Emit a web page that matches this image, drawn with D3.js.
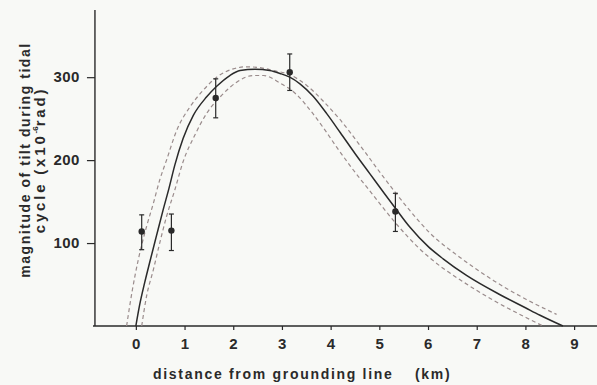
<!DOCTYPE html>
<html><head><meta charset="utf-8">
<script src="https://cdn.jsdelivr.net/npm/d3@7"></script>
<style>
html,body{margin:0;padding:0;background:#f8f9f6;}
svg{display:block;}
text{font-family:"Liberation Sans",Arial,sans-serif;font-weight:bold;fill:#2a2a2a;}
</style></head><body>
<svg id="c" width="597" height="385"></svg>
<script>
// ---- data ----
const xTicks = [0,1,2,3,4,5,6,7,8,9];
const yTicks = [100,200,300];
const obsX   = [0.12, 0.73, 1.64, 3.16, 5.33];
const obsY   = [114, 115, 275, 306, 138];
const obsLo  = [92, 91, 251, 284, 114];
const obsHi  = [134, 135, 298, 328, 160];
const fitX   = [0.0,0.08,0.18,0.29,0.42,0.56,0.68,0.80,0.97,1.18,1.45,1.66,1.93,2.14,2.45,2.75,2.96,3.16,3.37,3.64,3.92,4.20,4.50,4.80,5.10,5.33,5.63,6.00,6.31,6.79,7.47,8.00,8.30,8.77];
const fitY   = [0,26,52,78,108,140,166,194,226,254,276,289,302,308,309.5,308,304.5,300,292,277,256,233,208,184,160,142,119,96,81,61,38,22,13,0];
const upX    = [-0.19,-0.07,0.05,0.22,0.36,0.49,0.63,0.84,1.11,1.38,1.66,2.0,2.27,2.6,2.82,3.16,3.51,3.85,4.19,4.6,5.08,5.56,6.04,6.65,7.34,8.02,8.64];
const upY    = [0,44,80,120,148,176,200,236,264,284,300,310,312.5,311,308,303,290,271,249,218,180,144,112,83,55,32,14];
const loX    = [0.12,0.22,0.36,0.49,0.63,0.80,0.97,1.21,1.45,1.76,2.07,2.41,2.62,2.96,3.30,3.57,3.85,4.12,4.39,4.87,5.35,5.83,6.30,6.65,7.34,8.02,8.36];
const loY    = [0,36,68,100,132,164,198,230,256,278,294,302,302,293,279,261,239,216,194,158,123,93,70,56,31,10,0];

const svg = d3.select("#c");
const x = d3.scaleLinear().domain([-0.88, 9.47]).range([93, 597]);
const y = d3.scaleLinear().domain([0, 381]).range([326, 10]);
const ink = "#2a2a2a";

// axes
const xAxis = svg.append("g").attr("transform","translate(0,"+y(0)+")")
  .call(d3.axisBottom(x).tickValues(xTicks).tickSize(4).tickPadding(8).tickFormat(d3.format("d")));
const yAxis = svg.append("g").attr("transform","translate("+x(-0.84)+",0)")
  .call(d3.axisLeft(y).tickValues(yTicks).tickSize(8).tickPadding(7).tickFormat(d3.format("d")));
[xAxis,yAxis].forEach(g=>{
  g.select(".domain").attr("stroke",ink).attr("stroke-width",1.4);
  g.selectAll(".tick line").attr("stroke",ink).attr("stroke-width",1.2);
  g.selectAll(".tick text").attr("fill",ink).style("font-size","15px").style("font-family","'Liberation Sans',Arial,sans-serif").style("font-weight","bold").style("letter-spacing","0.5px");
});
xAxis.select(".domain").attr("d","M93,0H597");
yAxis.select(".domain").attr("d","M0,"+y(381)+"V"+y(0));

// curves
const line = d3.line().x(d=>x(d[0])).y(d=>y(d[1])).curve(d3.curveMonotoneX);
const zip = (a,b)=>a.map((v,i)=>[v,b[i]]);
svg.append("path").attr("d",line(zip(upX,upY))).attr("fill","none").attr("stroke","#9a8c8c").attr("stroke-width",1.2).attr("stroke-dasharray","4,3");
svg.append("path").attr("d",line(zip(loX,loY))).attr("fill","none").attr("stroke","#9a8c8c").attr("stroke-width",1.2).attr("stroke-dasharray","4,3");
svg.append("path").attr("d",line(zip(fitX,fitY))).attr("fill","none").attr("stroke",ink).attr("stroke-width",1.5);

// observations with error bars
const obs = obsX.map((v,i)=>({x:v,y:obsY[i],lo:obsLo[i],hi:obsHi[i]}));
const g = svg.append("g");
obs.forEach(d=>{
  g.append("line").attr("x1",x(d.x)).attr("x2",x(d.x)).attr("y1",y(d.lo)).attr("y2",y(d.hi)).attr("stroke",ink).attr("stroke-width",1.2);
  [d.lo,d.hi].forEach(v=>g.append("line").attr("x1",x(d.x)-2.5).attr("x2",x(d.x)+2.5).attr("y1",y(v)).attr("y2",y(v)).attr("stroke",ink).attr("stroke-width",1.2));
  g.append("circle").attr("cx",x(d.x)).attr("cy",y(d.y)).attr("r",3.2).attr("fill",ink);
});

// axis titles
svg.append("text").attr("x",153).attr("y",379).style("font-size","14px").style("letter-spacing","1.7px")
  .text("distance from grounding line");
svg.append("text").attr("x",415).attr("y",379).style("font-size","14px").style("letter-spacing","1.7px")
  .text("(km)");
const yt = svg.append("g").attr("transform","translate(0,160) rotate(-90)");
yt.append("text").attr("x",0).attr("y",30).attr("text-anchor","middle").style("font-size","14px").style("letter-spacing","1.55px")
  .text("magnitude of tilt during tidal");
const t2 = yt.append("text").attr("x",0).attr("y",45).attr("text-anchor","middle").style("font-size","15px").style("letter-spacing","2.8px");
t2.append("tspan").text("cycle (x10");
t2.append("tspan").attr("dy",-7).style("font-size","8px").style("letter-spacing","0px").text("-6");
t2.append("tspan").attr("dy",7).text("rad)");
</script>
</body></html>
